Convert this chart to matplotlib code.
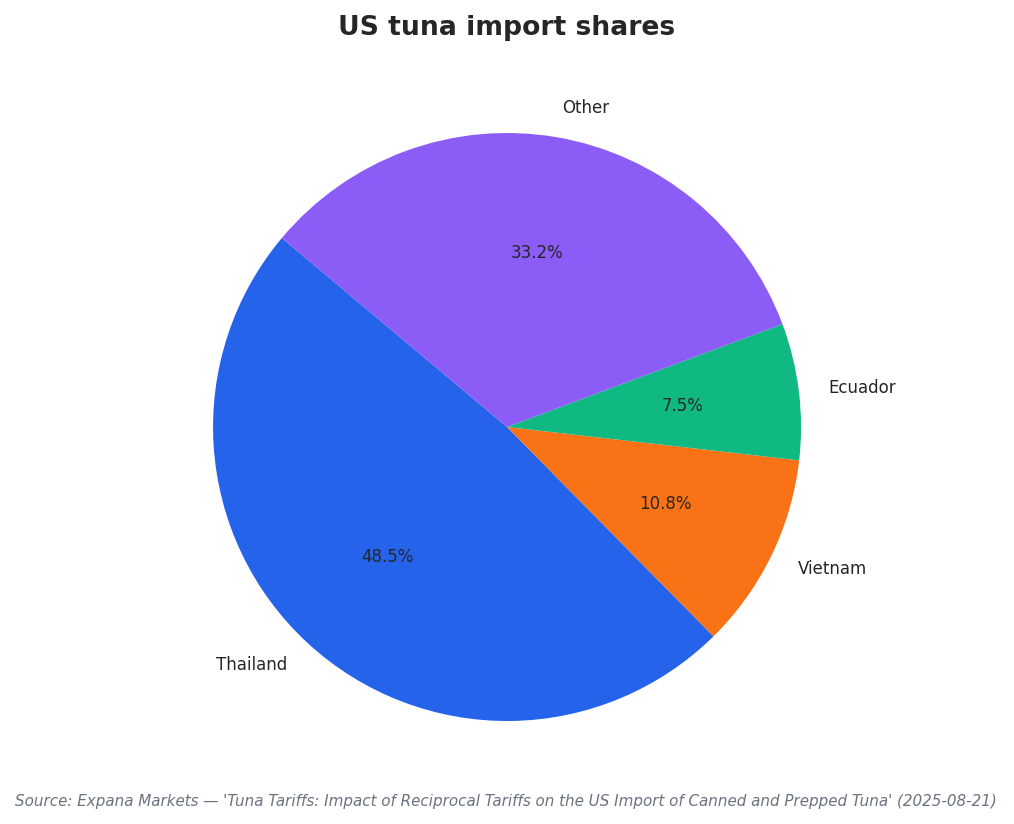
import matplotlib
matplotlib.use("Agg")
import matplotlib.pyplot as plt

countries = ["Thailand", "Vietnam", "Ecuador", "Other"]
shares = [48.5, 10.8, 7.5, 33.2]
colors = ["#2563EB", "#F97316", "#10B981", "#8B5CF6"]
title = "US tuna import shares"
source = ("Source: Expana Markets \u2014 'Tuna Tariffs: Impact of Reciprocal Tariffs on the US "
          "Import of Canned and Prepped Tuna' (2025-08-21)")

plt.rcParams['font.family'] = ['DejaVu Sans']
fig = plt.figure(figsize=(10.14, 8.24), dpi=100)
ax = fig.add_axes([0.1376, 0.0358, 0.7249, 0.892])
wedges, texts, autotexts = ax.pie(
    shares, labels=countries, colors=colors, startangle=140, counterclock=True,
    autopct="%1.1f%%", pctdistance=0.6, labeldistance=1.1,
    textprops={"fontsize": 12, "color": "#262626"},
)
for t in autotexts:
    t.set_fontsize(12)
    t.set_color("#262626")
ax.set_aspect("equal")
fig.text(0.5, 0.966, title, ha="center", va="center", fontsize=19.2, fontweight="bold", color="#262626")
fig.text(0.015, 0.027, source, ha="left", va="center", fontsize=10.9, style="italic", color="#6B7280")
fig.savefig("out.png", dpi=100)
